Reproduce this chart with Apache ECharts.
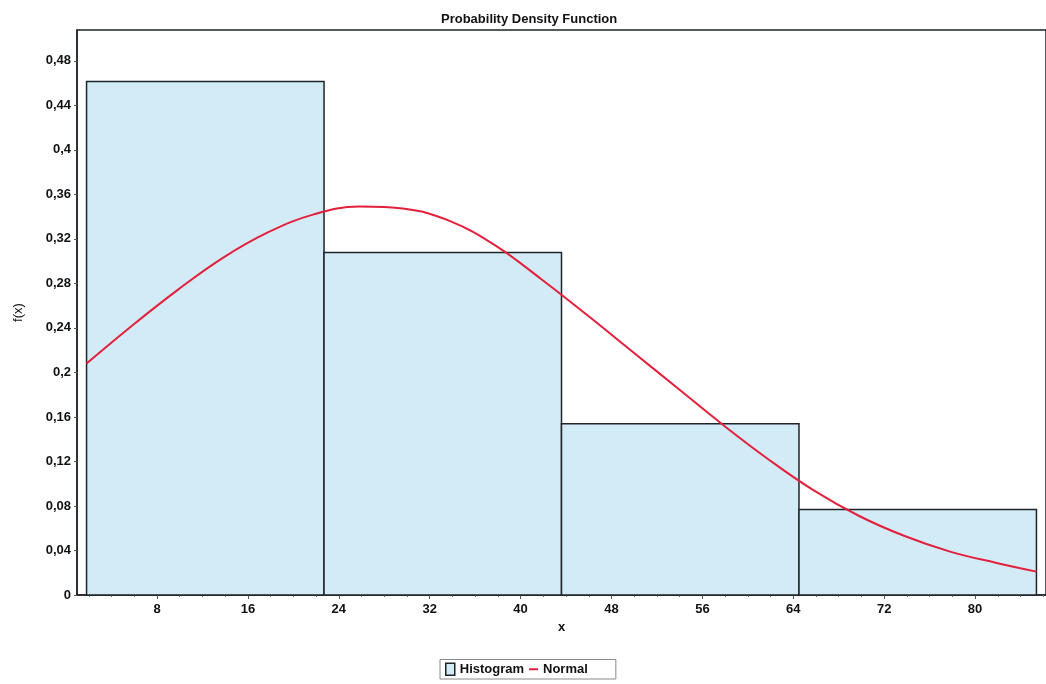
<!DOCTYPE html>
<html>
<head>
<meta charset="utf-8">
<script src="https://cdn.jsdelivr.net/npm/echarts@6/dist/echarts.min.js"></script>
<style>
  html, body { margin: 0; padding: 0; background: #fff; }
  #chart { width: 1046px; height: 684px; }
</style>
</head>
<body>
<div id="chart"></div>
<script>
// Histogram bins (edges) and their relative frequencies
const binEdges = [1.8, 22.7, 43.6, 64.5, 85.4];
const binHeights = [0.4615, 0.3077, 0.1538, 0.0769];

// Fitted normal curve, sampled points (x, f(x))
const normX = [1.8, 5.8, 9.8, 13.8, 17.8, 21.8, 25.8, 29.8, 33.8, 37.8, 41.8, 45.8, 49.8, 53.8, 57.8, 61.8, 65.8, 69.8, 73.8, 77.8, 81.8, 85.4];
const normY = [0.208, 0.242, 0.274, 0.303, 0.326, 0.342, 0.349, 0.347, 0.336, 0.314, 0.284, 0.252, 0.219, 0.186, 0.153, 0.122, 0.094, 0.071, 0.053, 0.039, 0.029, 0.021];

// Axis ticks
const xTicks = [8, 16, 24, 32, 40, 48, 56, 64, 72, 80];
const xMinorTicks = [2, 4, 6, 10, 12, 14, 18, 20, 22, 26, 28, 30, 34, 36, 38, 42, 44, 46, 50, 52, 54, 58, 60, 62, 66, 68, 70, 74, 76, 78, 82, 84, 86];
const yTicks = [0, 0.04, 0.08, 0.12, 0.16, 0.2, 0.24, 0.28, 0.32, 0.36, 0.4, 0.44, 0.48];
const yTickLabels = ['0', '0,04', '0,08', '0,12', '0,16', '0,2', '0,24', '0,28', '0,32', '0,36', '0,4', '0,44', '0,48'];

const xRange = [0.96, 86.24];
const yRange = [0, 0.5077];

const FONT = "'Liberation Sans', Arial, sans-serif";
const DARK = '#1e2428';
const BAR_FILL = '#d3ebf7';
const CURVE = '#e3203c';

const histData = binHeights.map((h, i) => [binEdges[i], binEdges[i + 1], h]);
const normData = normX.map((x, i) => [x, normY[i]]);

const chart = echarts.init(document.getElementById('chart'), null, { renderer: 'canvas' });

chart.setOption({
  backgroundColor: '#ffffff',
  animation: false,
  title: {
    text: 'Probability Density Function',
    left: 436,
    top: 8,
    textStyle: { fontFamily: FONT, fontSize: 13, fontWeight: 'bold', color: '#111' }
  },
  legend: {
    bottom: 5,
    left: 440,
    padding: [3, 28, 3, 5],
    borderColor: '#8a8a8a',
    borderWidth: 1,
    itemGap: 5,
    itemWidth: 9,
    itemHeight: 12,
    textStyle: { fontFamily: FONT, fontSize: 13, fontWeight: 'bold', color: '#111' },
    data: [
      { name: 'Histogram', icon: 'path://M0,0H9V12H0Z', itemStyle: { color: BAR_FILL, borderColor: DARK, borderWidth: 1.5 } },
      { name: 'Normal', icon: 'path://M0,5H9V7H0Z', itemStyle: { color: CURVE } }
    ]
  },
  grid: {
    left: 77, top: 30, right: -2, bottom: 89,
    show: true, borderColor: DARK, borderWidth: 1.5, backgroundColor: 'transparent'
  },
  xAxis: [
    {
      type: 'value', min: xRange[0], max: xRange[1],
      name: 'x', nameLocation: 'middle', nameGap: 24,
      nameTextStyle: { fontFamily: FONT, fontSize: 13, fontWeight: 'bold', color: '#111' },
      axisLine: { show: true, lineStyle: { color: DARK, width: 1.5 } },
      axisTick: { show: true, customValues: xTicks, length: 4, lineStyle: { color: '#555' } },
      axisLabel: { customValues: xTicks, margin: 8, fontFamily: FONT, fontSize: 13, fontWeight: 'bold', color: '#111' },
      splitLine: { show: false }
    },
    {
      type: 'value', min: xRange[0], max: xRange[1], position: 'bottom',
      axisLine: { show: false },
      axisTick: { show: true, customValues: xMinorTicks, length: 2, lineStyle: { color: '#777' } },
      axisLabel: { show: false },
      splitLine: { show: false }
    }
  ],
  yAxis: {
    type: 'value', min: yRange[0], max: yRange[1],
    name: 'f(x)', nameLocation: 'middle', nameGap: 52,
    nameTextStyle: { fontFamily: FONT, fontSize: 13, fontWeight: 'normal', color: '#111' },
    axisLine: { show: true, lineStyle: { color: DARK, width: 1.5 } },
    axisTick: { show: true, customValues: yTicks, length: 3, lineStyle: { color: '#555' } },
    axisLabel: {
      customValues: yTicks, margin: 6,
      fontFamily: FONT, fontSize: 13, fontWeight: 'bold', color: '#111',
      formatter: (v) => {
        const i = yTicks.findIndex(t => Math.abs(t - v) < 1e-9);
        return i >= 0 ? yTickLabels[i] : '';
      }
    },
    splitLine: { show: false }
  },
  series: [
    {
      name: 'Histogram',
      type: 'custom',
      xAxisIndex: 0,
      encode: { x: [0, 1], y: 2 },
      itemStyle: { color: BAR_FILL, borderColor: DARK },
      renderItem: (params, api) => {
        const topLeft = api.coord([api.value(0), api.value(2)]);
        const bottomRight = api.coord([api.value(1), 0]);
        return {
          type: 'rect',
          shape: {
            x: topLeft[0], y: topLeft[1],
            width: bottomRight[0] - topLeft[0],
            height: bottomRight[1] - topLeft[1]
          },
          style: { fill: BAR_FILL, stroke: DARK, lineWidth: 1.5 }
        };
      },
      data: histData,
      z: 2
    },
    {
      name: 'Normal',
      type: 'line',
      xAxisIndex: 0,
      smooth: 0.4,
      symbol: 'none',
      lineStyle: { color: CURVE, width: 2 },
      itemStyle: { color: CURVE },
      data: normData,
      z: 3
    }
  ]
});
</script>
</body>
</html>
